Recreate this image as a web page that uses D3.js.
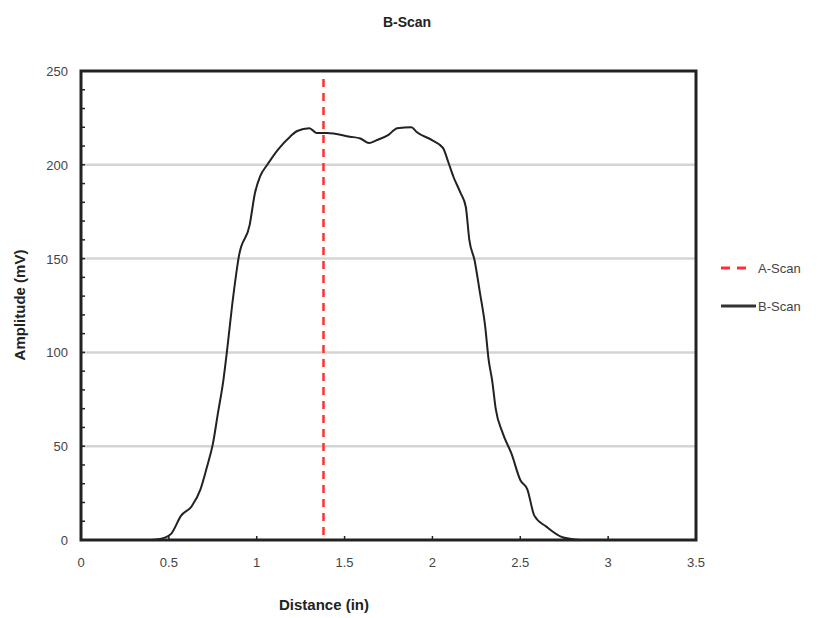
<!DOCTYPE html>
<html><head><meta charset="utf-8">
<script src="https://cdn.jsdelivr.net/npm/d3@7"></script>
<style>body{margin:0;background:#fff;} svg{display:block;} text{font-family:"Liberation Sans",Arial,sans-serif;}</style>
</head><body>
<svg id="c" width="823" height="618"></svg>
<script>
const distance = [0.40,0.45,0.51,0.57,0.63,0.68,0.72,0.75,0.78,0.81,0.83,0.86,0.90,0.96,0.99,1.02,1.06,1.12,1.19,1.23,1.30,1.34,1.40,1.53,1.59,1.64,1.68,1.75,1.80,1.88,1.91,2.00,2.06,2.09,2.12,2.16,2.19,2.21,2.24,2.27,2.30,2.32,2.34,2.36,2.40,2.45,2.50,2.54,2.58,2.65,2.74,2.84];
const amplitude = [0,0.5,3,13,18,27,40,51,68,85,100,125,152,168,185,194,200,208,215,218,219.5,217,217,215,214,211.6,213,216,219.5,220,217.5,213,209,201.5,193.5,185,177.5,160,149,132,114,96,85,70,57,46,32,27,13,7,1.5,0];
const aScanX = 1.38;
const xTicks = [0,0.5,1,1.5,2,2.5,3,3.5];
const yTicks = [0,50,100,150,200,250];
const seriesNames = ["A-Scan","B-Scan"];

const svg = d3.select("#c");
const L=81, R=696, T=71, B=540;
const x = d3.scaleLinear().domain([0,3.5]).range([L,R]);
const y = d3.scaleLinear().domain([0,250]).range([B,T]);

// gridlines
svg.append("g").selectAll("line").data(yTicks.filter(d=>d>0&&d<250)).join("line")
  .attr("x1",L).attr("x2",R).attr("y1",d=>y(d)).attr("y2",d=>y(d))
  .attr("stroke","#d4d4d4").attr("stroke-width",2.5);

// minor y ticks inside
svg.append("g").selectAll("line").data(d3.range(10,250,10)).join("line")
  .attr("x1",L).attr("x2",L+4).attr("y1",d=>y(d)).attr("y2",d=>y(d))
  .attr("stroke","#222").attr("stroke-width",1.5);
// x ticks inside
svg.append("g").selectAll("line").data(xTicks.slice(1,-1)).join("line")
  .attr("x1",d=>x(d)).attr("x2",d=>x(d)).attr("y1",B).attr("y2",B-4)
  .attr("stroke","#222").attr("stroke-width",1.5);

// A-Scan line
svg.append("line").attr("x1",x(aScanX)).attr("x2",x(aScanX)).attr("y1",T+8).attr("y2",B)
  .attr("stroke","#ff3030").attr("stroke-width",2.5).attr("stroke-dasharray","8,6");

// B-Scan curve
const line = d3.line().x((d,i)=>x(distance[i])).y(d=>y(d)).curve(d3.curveMonotoneX);
svg.append("path").datum(amplitude).attr("d",line)
  .attr("fill","none").attr("stroke","#222").attr("stroke-width",2);

// frame
svg.append("rect").attr("x",L).attr("y",T).attr("width",R-L).attr("height",B-T)
  .attr("fill","none").attr("stroke","#222").attr("stroke-width",3);

// tick labels
svg.append("g").selectAll("text").data(yTicks).join("text")
  .attr("x",L-13).attr("y",d=>y(d)+5).attr("text-anchor","end")
  .attr("font-size",13).attr("fill","#444").text(d=>d);
svg.append("g").selectAll("text").data(xTicks).join("text")
  .attr("x",d=>x(d)).attr("y",B+27).attr("text-anchor","middle")
  .attr("font-size",13).attr("fill","#444").text(d=>d);

// titles
svg.append("text").attr("x",407).attr("y",27).attr("text-anchor","middle")
  .attr("font-size",14).attr("font-weight","bold").attr("fill","#222").text("B-Scan");
svg.append("text").attr("x",324).attr("y",610).attr("text-anchor","middle")
  .attr("font-size",15).attr("font-weight","bold").attr("fill","#222").text("Distance  (in)");
svg.append("text").attr("transform","translate(25,305) rotate(-90)").attr("text-anchor","middle")
  .attr("font-size",15).attr("font-weight","bold").attr("fill","#222").text("Amplitude  (mV)");

// legend
const lg = svg.append("g");
lg.append("line").attr("x1",721).attr("x2",752).attr("y1",268).attr("y2",268)
  .attr("stroke","#ff3030").attr("stroke-width",3).attr("stroke-dasharray","9,7");
lg.append("text").attr("x",758).attr("y",273).attr("font-size",13).attr("fill","#444").text(seriesNames[0]);
lg.append("line").attr("x1",721).attr("x2",756).attr("y1",306).attr("y2",306)
  .attr("stroke","#333").attr("stroke-width",3);
lg.append("text").attr("x",758).attr("y",311).attr("font-size",13).attr("fill","#444").text(seriesNames[1]);
</script>
</body></html>
